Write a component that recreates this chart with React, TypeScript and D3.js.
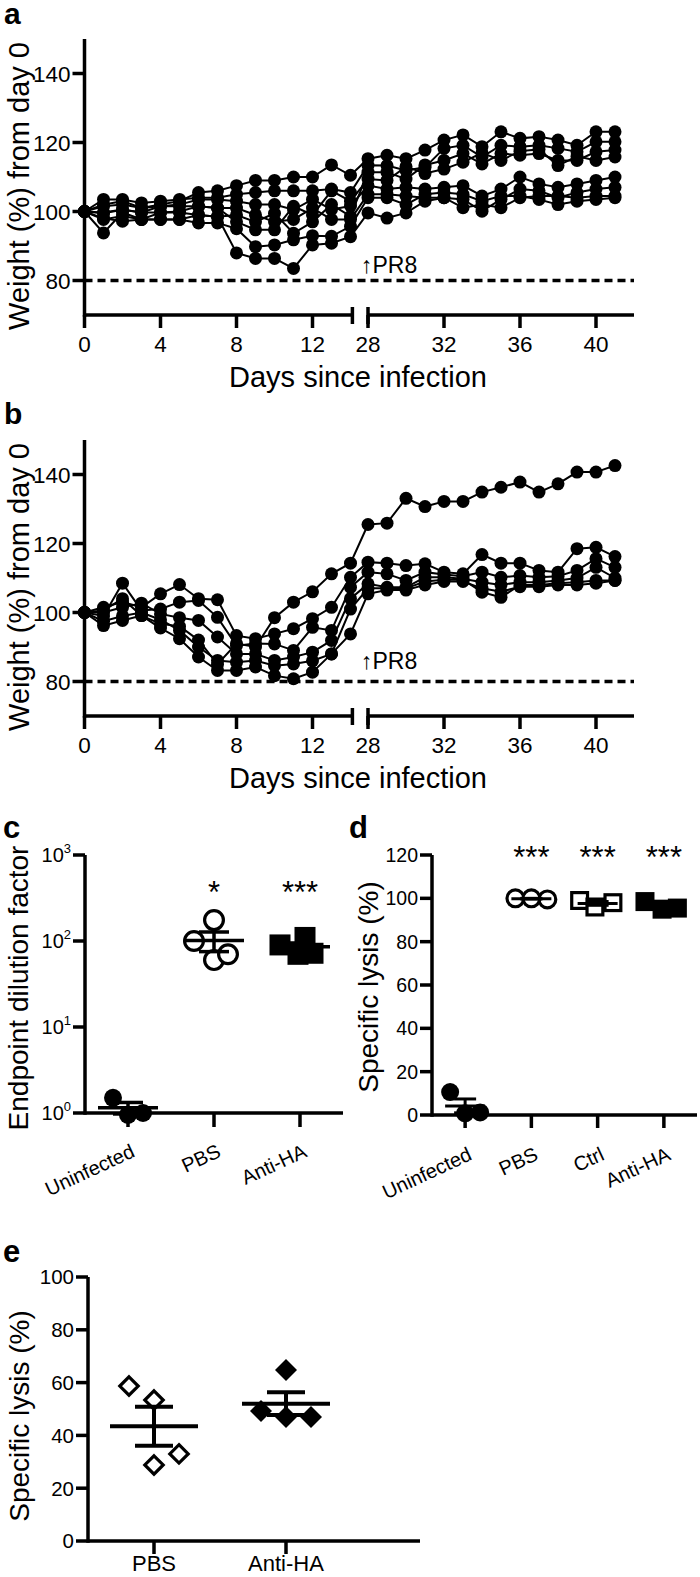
import React from "react";
import * as d3 from "d3";

// ---------- Data ----------
const daysEarly = [0, 1, 2, 3, 4, 5, 6, 7, 8, 9, 10, 11, 12, 13, 14];
const daysLate = [28, 29, 30, 31, 32, 33, 34, 35, 36, 37, 38, 39, 40, 41];
const days = [...daysEarly, ...daysLate];

const weightTicksX1 = [0, 4, 8, 12];
const weightTicksX2 = [28, 32, 36, 40];
const weightTicksY = [80, 100, 120, 140];

// panel a: weight (%) per mouse, days 0-14 then 28-41
const weightA: number[][] = [
  [100, 102, 103, 101, 102, 103, 105.5, 106, 107.5, 109, 109, 110, 110, 113.5, 110.5,
   115.3, 116.3, 115.3, 117.8, 120.7, 122.2, 118.8, 123.1, 121.2, 121.7, 120.7, 119.2, 123.1, 123.1],
  [100, 103.5, 103.5, 102.5, 103, 103.5, 104, 104, 105, 105.5, 106, 106, 106, 106.5, 105.5,
   113.4, 113.3, 111.9, 112.8, 118.3, 119.2, 115.8, 119.2, 118.8, 119.2, 118.3, 117.3, 120.2, 120.2],
  [100, 101.5, 102, 101, 101.5, 102, 103.5, 103.5, 103, 102, 102, 100.5, 103.5, 100.6, 101.6,
   107.5, 106.5, 107, 106.5, 107, 107.5, 104.5, 106.5, 110, 108, 107, 108, 109, 110],
  [100, 99.5, 100.5, 99.7, 99.7, 100, 101.5, 101, 101, 99, 97, 97.7, 101, 97.7, 97.7,
   105, 105, 104.5, 104, 104, 103.5, 100.1, 103.5, 106.5, 106, 104, 105.5, 106.5, 107],
  [100, 97.7, 98.7, 97.7, 97.7, 97.7, 99, 98.5, 99, 97, 99.5, 93.7, 97, 102, 98.6,
   111.4, 111.4, 109.4, 113.5, 114.8, 116.8, 113.8, 116.8, 116.3, 116.8, 114.8, 114.8, 117.3, 117.8],
  [100, 99.7, 100.6, 99.7, 101.5, 101.5, 101.5, 101, 97, 94.7, 94.7, 101.5, 99, 106, 103,
   109.4, 109, 113, 111, 112.3, 114.3, 117, 114.8, 117.5, 118, 113.3, 116, 114.8, 115.8],
  [100, 98, 97.2, 97.7, 97.7, 97.7, 96.7, 96.7, 95, 89.8, 90.3, 91.8, 93, 92.8, 95.7,
   104, 104, 102, 105, 105.5, 105, 103, 104.5, 104.5, 103.5, 102, 103, 103.5, 104],
  [100, 93.8, 99.7, 97.7, 99.7, 99.7, 99, 98.5, 88, 86.4, 86.4, 83.5, 90.3, 90.8, 92.7,
   99.6, 98.1, 99.6, 103, 104, 101.1, 102, 101.1, 104, 104.5, 104.5, 104, 104.5, 104.5],
];

// panel b
const weightB: number[][] = [
  [100, 100.6, 104, 99.1, 96.7, 96, 92, 85, 91, 90, 98.5, 103, 106, 111.2, 114.3,
   125.5, 125.9, 133.1, 130.7, 132.2, 132.2, 134.9, 136.3, 137.8, 134.9, 137.3, 140.7, 140.7, 142.6],
  [100, 101.5, 103, 101.5, 105.4, 108.1, 104, 103.7, 93.3, 92.4, 93.8, 95.3, 98.2, 101.5, 110.2,
   114.6, 114.3, 113.6, 114.1, 111.7, 111.2, 116.8, 114.3, 114.3, 112.2, 111.7, 118.5, 118.9, 116.2],
  [100, 99, 108.5, 100.6, 101, 103, 103.5, 98.6, 90.4, 91, 90.9, 89, 95.7, 94.8, 107.3,
   111.7, 111.2, 109.3, 111.7, 111, 110.5, 111.7, 110.2, 110.7, 110.2, 110.5, 112.2, 115.6, 113.1],
  [100, 100, 101.5, 102.7, 99.6, 98.5, 97.7, 92.9, 88, 88, 86.1, 87.1, 88.5, 91.9, 104,
   108.3, 107.3, 107.3, 110.2, 110.2, 109.8, 108.8, 108, 108.8, 108.8, 109.3, 110, 113.1, 110],
  [100, 97.5, 99, 100, 97.9, 94.8, 90, 86.1, 85.6, 86.1, 84.6, 85.1, 86, 88, 101,
   107, 107, 107, 109, 109.5, 109.5, 105.9, 104.4, 108, 108, 108.5, 108.8, 109.3, 109.3],
  [100, 96.2, 97.7, 99.1, 95.5, 92.4, 87.1, 83.2, 83.2, 84.2, 81.7, 80.8, 82.7, 88, 93.8,
   105.4, 106.5, 106.5, 108, 109, 109, 107, 106, 107.5, 107.5, 108, 108, 108.5, 109.3],
];

// panel c: endpoint dilution factor
const catsC = ["Uninfected", "PBS", "Anti-HA"];
const cUninfected = [1.5, 0.95, 1.0];
const cUninfectedLane = [-0.75, 0, 0.75];
const cPBS = [175, 100, 60, 70];
const cPBSLane = [0, -1, 0, 0.7];
const cAntiHA = [90, 110, 72, 70];
const cAntiHALane = [-1, 0.25, 0.65, -0.1];
const cTicks = [0, 1, 2, 3];
const cStars = ["", "*", "***"];

// panel d: specific lysis
const catsD = ["Uninfected", "PBS", "Ctrl", "Anti-HA"];
const dUninfected = [10.6, 0.8, 1.2];
const dUninfectedLane = [-1, 0, 1];
const dPBS = [100, 99.5, 100];
const dPBSLane = [-1, 1, 0];
const dCtrl = [99, 96, 98];
const dCtrlLane = [-1, -0.15, 0.85];
const dAntiHA = [98.5, 95, 95.5];
const dAntiHALane = [-1.05, -0.1, 0.75];
const dTicks = [0, 20, 40, 60, 80, 100, 120];
const dStars = ["", "***", "***", "***"];

// panel e: specific lysis
const catsE = ["PBS", "Anti-HA"];
const ePBS = [58.7, 53.4, 28.8, 33];
const ePBSLane = [-1, 0, 0, 1];
const eAntiHA = [64.8, 49.2, 47, 47];
const eAntiHALane = [0, -1, 0, 1];
const eTicks = [0, 20, 40, 60, 80, 100];

// ---------- helpers ----------
const FONT = "'Liberation Sans', Arial, Helvetica, sans-serif";
const AXW = 3.5;

function meanSem(v: number[]) {
  const m = d3.mean(v) as number;
  const sd = d3.deviation(v) as number;
  return { m, sem: sd / Math.sqrt(v.length) };
}

type Shape = "circleFilled" | "circleOpen" | "squareFilled" | "squareOpen" | "diamondFilled" | "diamondOpen";

function Marker({ shape, cx, cy, size }: { shape: Shape; cx: number; cy: number; size: number }) {
  const filled = shape.endsWith("Filled");
  const fill = filled ? "#000" : "#fff";
  const stroke = "#000";
  const sw = filled ? 0 : 3.2;
  if (shape.startsWith("circle")) {
    return <circle cx={cx} cy={cy} r={filled ? size : size - 1.6} fill={fill} stroke={stroke} strokeWidth={sw} />;
  }
  if (shape.startsWith("square")) {
    const s = filled ? size : size - 3.2;
    return <rect x={cx - s / 2} y={cy - s / 2} width={s} height={s} fill={fill} stroke={stroke} strokeWidth={sw} />;
  }
  const h = filled ? size : size - 1.8;
  return (
    <path d={`M${cx},${cy - h}L${cx + h},${cy}L${cx},${cy + h}L${cx - h},${cy}Z`} fill={fill} stroke={stroke} strokeWidth={sw} />
  );
}

function MeanSem({ x, y, ms, half, cap, sw }: { x: number; y: (v: number) => number; ms: { m: number; sem: number }; half: number; cap: number; sw: number }) {
  const ym = y(ms.m);
  const yu = y(ms.m + ms.sem);
  const yl = y(Math.max(ms.m - ms.sem, 0.5));
  return (
    <g stroke="#000" strokeWidth={sw}>
      <line x1={x - half} x2={x + half} y1={ym} y2={ym} />
      <line x1={x} x2={x} y1={yu} y2={yl} />
      <line x1={x - cap} x2={x + cap} y1={yu} y2={yu} />
      <line x1={x - cap} x2={x + cap} y1={yl} y2={yl} />
    </g>
  );
}

// ---------- weight panels ----------
function WeightPanel({ data, y0, letter, letterY, pr8Y }: { data: number[][]; y0: number; letter: string; letterY: number; pr8Y: number }) {
  const y = d3.scaleLinear().domain([70, 150]).range([y0, y0 - 276]);
  const xE = d3.scaleLinear().domain([0, 14]).range([84.5, 84.5 + 14 * 19]);
  const xL = d3.scaleLinear().domain([28, 42]).range([368, 368 + 14 * 19]);
  const x = (d: number) => (d <= 14 ? xE(d) : xL(d));
  const line = d3
    .line<number>()
    .x((_, i) => x(days[i]))
    .y((v) => y(v));
  const axEnd1 = xE(14.1);
  const axStart2 = xL(28);
  const axEnd2 = xL(42);
  return (
    <g fontFamily={FONT}>
      <text x={4} y={letterY} fontSize={30} fontWeight="bold">{letter}</text>
      {/* dashed 80% line */}
      <line x1={xE(0)} x2={xL(42)} y1={y(80)} y2={y(80)} stroke="#000" strokeWidth={3.5} strokeDasharray="8 5" />
      {/* y axis */}
      <line x1={xE(0)} x2={xE(0)} y1={y0 + AXW / 2} y2={y(150)} stroke="#000" strokeWidth={AXW} />
      {weightTicksY.map((t) => (
        <g key={t}>
          <line x1={xE(0) - 12} x2={xE(0)} y1={y(t)} y2={y(t)} stroke="#000" strokeWidth={AXW} />
          <text x={xE(0) - 14} y={y(t)} dy="0.36em" textAnchor="end" fontSize={22.5}>{t}</text>
        </g>
      ))}
      {/* x axis with break */}
      <line x1={xE(0)} x2={axEnd1} y1={y0} y2={y0} stroke="#000" strokeWidth={AXW} />
      <line x1={axStart2} x2={axEnd2} y1={y0} y2={y0} stroke="#000" strokeWidth={AXW} />
      <line x1={axEnd1} x2={axEnd1} y1={y0 - 8} y2={y0 + 9} stroke="#000" strokeWidth={AXW} />
      <line x1={axStart2} x2={axStart2} y1={y0 - 8} y2={y0 + 9} stroke="#000" strokeWidth={AXW} />
      {[...weightTicksX1, ...weightTicksX2].map((t) => (
        <g key={t}>
          <line x1={x(t)} x2={x(t)} y1={y0} y2={y0 + 13} stroke="#000" strokeWidth={AXW} />
          <text x={x(t)} y={y0 + 37} textAnchor="middle" fontSize={22.5}>{t}</text>
        </g>
      ))}
      <text x={358} y={y0 + 72} textAnchor="middle" fontSize={29}>Days since infection</text>
      <text transform={`translate(29,${y0 - 129}) rotate(-90)`} textAnchor="middle" fontSize={29}>Weight (%) from day 0</text>
      <text x={361} y={pr8Y} fontSize={23}>↑PR8</text>
      {/* series */}
      {data.map((s, k) => (
        <path key={k} d={line(s) || ""} fill="none" stroke="#000" strokeWidth={2} />
      ))}
      {data.map((s, k) => (
        <g key={k}>
          {s.map((v, i) => (
            <circle key={i} cx={x(days[i])} cy={y(v)} r={6.5} fill="#000" />
          ))}
        </g>
      ))}
    </g>
  );
}

// ---------- panel c ----------
function PanelC() {
  const y = d3.scaleLog().domain([1, 1000]).range([1113, 855]);
  const x = d3.scalePoint<string>().domain(catsC).range([85, 343]).padding(0.5);
  const yc = (v: number) => y(Math.max(v, 0.9));
  const groups = [
    { cat: "Uninfected", vals: cUninfected, lanes: cUninfectedLane, shape: "circleFilled" as Shape, size: 9, lane: 20 },
    { cat: "PBS", vals: cPBS, lanes: cPBSLane, shape: "circleOpen" as Shape, size: 11, lane: 20 },
    { cat: "Anti-HA", vals: cAntiHA, lanes: cAntiHALane, shape: "squareFilled" as Shape, size: 21, lane: 20 },
  ];
  return (
    <g fontFamily={FONT}>
      <text x={3} y={838} fontSize={31} fontWeight="bold">c</text>
      <line x1={85} x2={85} y1={855} y2={1113 + AXW / 2} stroke="#000" strokeWidth={AXW} />
      <line x1={85} x2={343} y1={1113} y2={1113} stroke="#000" strokeWidth={AXW} />
      {cTicks.map((e) => (
        <g key={e}>
          <line x1={73} x2={85} y1={y(Math.pow(10, e))} y2={y(Math.pow(10, e))} stroke="#000" strokeWidth={AXW} />
          <text x={71} y={y(Math.pow(10, e))} dy="0.36em" textAnchor="end" fontSize={20}>
            10<tspan dy={-9} fontSize={13}>{e}</tspan>
          </text>
        </g>
      ))}
      {catsC.map((c, i) => (
        <g key={c}>
          <line x1={x(c)} x2={x(c)} y1={1113} y2={1127} stroke="#000" strokeWidth={AXW} />
          <text transform={`translate(${(x(c) as number) + 8},${1156}) rotate(-25)`} textAnchor="end" fontSize={20}>{c}</text>
          {cStars[i] && (
            <text x={x(c)} y={903} textAnchor="middle" fontSize={31}>{cStars[i]}</text>
          )}
        </g>
      ))}
      <text transform="translate(28,988) rotate(-90)" textAnchor="middle" fontSize={28}>Endpoint dilution factor</text>
      {groups.map((g) => (
        <g key={g.cat}>
          {g.vals.map((v, i) => (
            <Marker key={i} shape={g.shape} cx={(x(g.cat) as number) + g.lanes[i] * g.lane} cy={yc(v)} size={g.size} />
          ))}
          <MeanSem x={x(g.cat) as number} y={yc} ms={meanSem(g.vals)} half={30} cap={15} sw={3.5} />
        </g>
      ))}
    </g>
  );
}

// ---------- panel d ----------
function PanelD() {
  const y = d3.scaleLinear().domain([0, 120]).range([1115, 855]);
  const x = d3.scalePoint<string>().domain(catsD).range([432, 697]).padding(0.5);
  const groups = [
    { cat: "Uninfected", vals: dUninfected, lanes: dUninfectedLane, shape: "circleFilled" as Shape, size: 9, lane: 15 },
    { cat: "PBS", vals: dPBS, lanes: dPBSLane, shape: "circleOpen" as Shape, size: 10, lane: 16 },
    { cat: "Ctrl", vals: dCtrl, lanes: dCtrlLane, shape: "squareOpen" as Shape, size: 19, lane: 18 },
    { cat: "Anti-HA", vals: dAntiHA, lanes: dAntiHALane, shape: "squareFilled" as Shape, size: 19, lane: 18 },
  ];
  return (
    <g fontFamily={FONT}>
      <text x={349} y={838} fontSize={31} fontWeight="bold">d</text>
      <line x1={432} x2={432} y1={855} y2={1115 + AXW / 2} stroke="#000" strokeWidth={AXW} />
      <line x1={432} x2={697} y1={1115} y2={1115} stroke="#000" strokeWidth={AXW} />
      {dTicks.map((t) => (
        <g key={t}>
          <line x1={420} x2={432} y1={y(t)} y2={y(t)} stroke="#000" strokeWidth={AXW} />
          <text x={418} y={y(t)} dy="0.36em" textAnchor="end" fontSize={19.5}>{t}</text>
        </g>
      ))}
      {catsD.map((c, i) => (
        <g key={c}>
          <line x1={x(c)} x2={x(c)} y1={1115} y2={1128} stroke="#000" strokeWidth={AXW} />
          <text transform={`translate(${(x(c) as number) + 8},${1159}) rotate(-25)`} textAnchor="end" fontSize={20}>{c}</text>
          {dStars[i] && (
            <text x={x(c)} y={868} textAnchor="middle" fontSize={31}>{dStars[i]}</text>
          )}
        </g>
      ))}
      <text transform="translate(378,987) rotate(-90)" textAnchor="middle" fontSize={28}>Specific lysis (%)</text>
      {groups.map((g) => (
        <g key={g.cat}>
          {g.vals.map((v, i) => (
            <Marker key={i} shape={g.shape} cx={(x(g.cat) as number) + g.lanes[i] * g.lane} cy={y(v)} size={g.size} />
          ))}
          <MeanSem x={x(g.cat) as number} y={(v) => y(v)} ms={meanSem(g.vals)} half={20} cap={11} sw={3} />
        </g>
      ))}
    </g>
  );
}

// ---------- panel e ----------
function PanelE() {
  const y = d3.scaleLinear().domain([0, 100]).range([1541, 1277]);
  const x = d3.scalePoint<string>().domain(catsE).range([88, 352]).padding(0.5);
  const groups = [
    { cat: "PBS", vals: ePBS, lanes: ePBSLane, shape: "diamondOpen" as Shape },
    { cat: "Anti-HA", vals: eAntiHA, lanes: eAntiHALane, shape: "diamondFilled" as Shape },
  ];
  return (
    <g fontFamily={FONT}>
      <text x={3} y={1262} fontSize={31} fontWeight="bold">e</text>
      <line x1={88} x2={88} y1={1277} y2={1541 + AXW / 2} stroke="#000" strokeWidth={AXW} />
      <line x1={88} x2={420} y1={1541} y2={1541} stroke="#000" strokeWidth={AXW} />
      {eTicks.map((t) => (
        <g key={t}>
          <line x1={76} x2={88} y1={y(t)} y2={y(t)} stroke="#000" strokeWidth={AXW} />
          <text x={74} y={y(t)} dy="0.36em" textAnchor="end" fontSize={20.5}>{t}</text>
        </g>
      ))}
      {catsE.map((c) => (
        <g key={c}>
          <line x1={x(c)} x2={x(c)} y1={1541} y2={1554} stroke="#000" strokeWidth={AXW} />
          <text x={x(c)} y={1571} textAnchor="middle" fontSize={22}>{c}</text>
        </g>
      ))}
      <text transform="translate(29,1416) rotate(-90)" textAnchor="middle" fontSize={28}>Specific lysis (%)</text>
      {groups.map((g) => (
        <g key={g.cat}>
          {g.vals.map((v, i) => (
            <Marker key={i} shape={g.shape} cx={(x(g.cat) as number) + g.lanes[i] * 25} cy={y(v)} size={11} />
          ))}
          <MeanSem x={x(g.cat) as number} y={(v) => y(v)} ms={meanSem(g.vals)} half={44} cap={19} sw={4} />
        </g>
      ))}
    </g>
  );
}

export default function App() {
  return (
    <svg
      width={700}
      height={1577}
      viewBox="0 0 700 1577"
      style={{ position: "absolute", left: 0, top: 0, background: "#fff" }}
    >
      <rect x={0} y={0} width={700} height={1577} fill="#fff" />
      <WeightPanel data={weightA} y0={315} letter="a" letterY={24} pr8Y={273} />
      <WeightPanel data={weightB} y0={716} letter="b" letterY={424} pr8Y={669} />
      <PanelC />
      <PanelD />
      <PanelE />
    </svg>
  );
}
